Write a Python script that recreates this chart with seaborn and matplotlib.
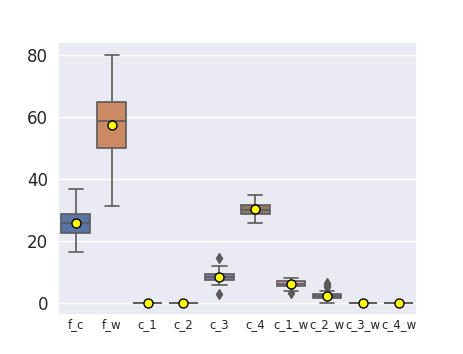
import matplotlib
matplotlib.use("Agg")
import matplotlib.pyplot as plt
import seaborn as sns
import pandas as pd

f_c = [16.4, 20.0, 22.5, 24.0, 25.6, 27.0, 28.6, 30.7, 36.5]
f_w = [31.2, 45.0, 49.9, 54.0, 58.7, 61.0, 64.6, 70.5, 79.9]
c_1 = [0.0, 0.0, 0.0, 0.0, 0.0]
c_2 = [0.0, 0.0, 0.0, 0.0, 0.0]
c_3 = [2.7, 5.6, 7.2, 7.8, 8.3, 8.5, 9.3, 11.7, 14.5]
c_4 = [25.6, 27.5, 28.6, 29.3, 30.0, 30.8, 31.5, 33.9, 34.6]
c_1_w = [3.0, 3.9, 5.5, 5.8, 6.1, 6.4, 6.9, 7.4, 8.1]
c_2_w = [0.0, 0.0, 0.0, 0.0, 0.0, 1.4, 1.4, 1.4, 1.4, 1.4, 2.1,
         2.1, 2.1, 2.1, 2.1, 2.9, 2.9, 3.9, 5.2, 5.7, 6.2]
c_3_w = [0.0, 0.0, 0.0, 0.0, 0.0]
c_4_w = [0.0, 0.0, 0.0, 0.0, 0.0]

categories = ["f_c", "f_w", "c_1", "c_2", "c_3", "c_4",
              "c_1_w", "c_2_w", "c_3_w", "c_4_w"]
series = [f_c, f_w, c_1, c_2, c_3, c_4, c_1_w, c_2_w, c_3_w, c_4_w]

rows = []
for cat, vals in zip(categories, series):
    for v in vals:
        rows.append({"variable": cat, "value": v})
df = pd.DataFrame(rows)

sns.set_theme(style="darkgrid")
plt.rcParams["font.family"] = ["DejaVu Sans"]
fig, ax = plt.subplots(figsize=(4.63, 3.54), dpi=100)
sns.boxplot(data=df, x="variable", y="value", hue="variable",
            order=categories, hue_order=categories, palette="deep",
            legend=False, showmeans=True, linecolor="#5a5a5a", linewidth=1.2,
            flierprops={"marker": "d", "markerfacecolor": "#5a5a5a",
                        "markeredgecolor": "#5a5a5a", "markersize": 5},
            meanprops={"marker": "o", "markerfacecolor": "yellow",
                       "markeredgecolor": "black", "markersize": 6.5},
            ax=ax)
ax.set_xlabel("")
ax.set_ylabel("")
ax.tick_params(axis="x", labelsize=8.5, length=0, pad=2)
ax.tick_params(axis="y", labelsize=12, length=0, pad=7)
fig.savefig("out.png", dpi=100)
